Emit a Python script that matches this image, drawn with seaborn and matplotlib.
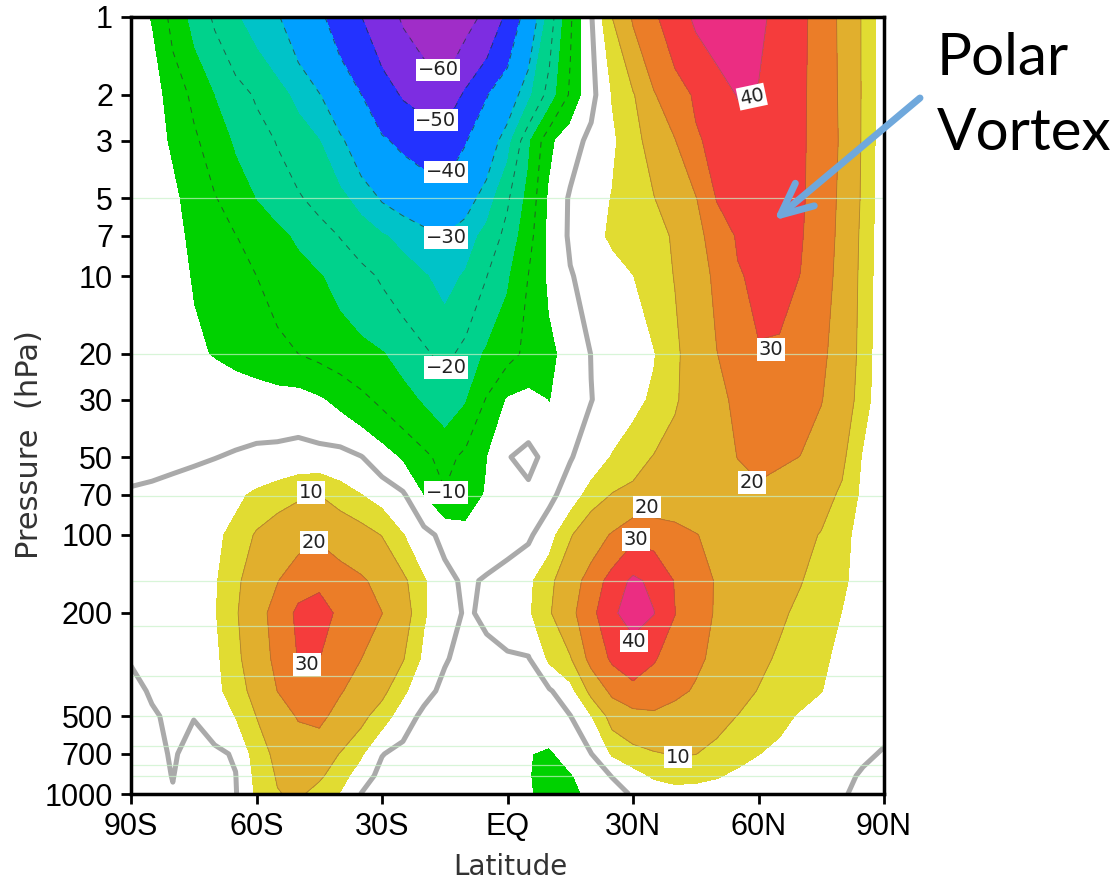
import numpy as np
import matplotlib
matplotlib.use("Agg")
import matplotlib.pyplot as plt
from matplotlib.ticker import NullLocator
import seaborn as sns

# grid: latitude (deg) and pressure (hPa)
lats = [-90, -85, -80, -75, -70, -65, -60, -55, -50, -45, -40, -35, -30,
        -25, -20, -15, -10, -5, 0, 5, 10, 15, 20, 25, 30, 35, 40, 45, 50,
        55, 60, 65, 70, 75, 80, 85, 90]
pres = [1, 2, 3, 5, 7, 10, 20, 30, 50, 70, 100, 150, 200, 300, 400, 500, 700, 850, 1000]

# zonal-mean zonal wind (m/s), one row per pressure level, 90S -> 90N
u_1hpa = [-3, -5.3, -11.6, -16.8, -20.7, -24.5, -27.1, -29.5, -33.7, -38.5, -44.0, -49.8, -55.6,
          -61.0, -64.8, -68.0, -63.2, -57.9, -48.0, -35.4, -22.7, -10.8, -0.4, 10.0, 21.0, 28.5,
          35.6, 41.5, 45.7, 46.1, 41.9, 37.3, 32.3, 25.8, 17.9, 9.1, 2.0]
u_2hpa = [-2, -3.1, -7.1, -11.1, -15.1, -17.9, -20.6, -23.3, -26.3, -29.7, -34.7, -39.9, -45.8,
          -50.9, -54.1, -57.0, -48.3, -40.5, -34.0, -26.3, -17.9, -9.2, -1.5, 5.2, 9.2, 19.3,
          25.9, 31.2, 34.9, 40.5, 39.5, 34.8, 31.6, 26.2, 18.2, 9.1, 2.0]
u_3hpa = [-2, -3.5, -5.6, -9.1, -12.6, -15.7, -18.0, -20.3, -22.6, -24.9, -29.0, -33.9, -39.0,
          -41.8, -44.2, -46.0, -40.5, -34.1, -27.0, -16.0, -6.2, -2.0, 1.2, 4.2, 7.8, 12.8,
          19.6, 29.0, 32.2, 34.6, 37.0, 34.2, 31.4, 26.4, 18.5, 9.0, 2.0]
u_5hpa = [-2, -3.5, -4.2, -6.9, -9.7, -12.5, -15.2, -17.3, -19.5, -21.6, -23.8, -26.9, -30.6,
          -32.7, -34.8, -37.0, -32.7, -27.5, -20.7, -13.5, -4.3, 0.6, 2.9, 5.2, 7.5, 9.8,
          14.6, 19.5, 30.5, 32.8, 35.1, 34.3, 31.3, 25.8, 17.8, 8.7, 2.0]
u_7hpa = [-2, -3.2, -3.9, -5.9, -7.9, -9.9, -11.8, -13.8, -15.9, -18.0, -20.2, -22.3, -24.5,
          -26.4, -28.2, -29.8, -27.1, -23.5, -18.3, -11.9, -3.9, 0.7, 3.5, 5.7, 7.1, 8.6,
          10.5, 16.8, 24.7, 30.9, 32.8, 33.1, 30.8, 25.2, 17.3, 8.1, 2.0]
u_10hpa = [-2, -3.4, -3.75, -5.3, -6.9, -8.4, -10.0, -11.6, -13.1, -14.7, -16.6, -18.6, -20.6,
           -22.6, -24.6, -26.5, -24.5, -20.1, -15.7, -9.9, -4.2, -0.3, 1.6, 3.3, 4.9, 7.6,
           10.2, 15.8, 21.8, 29.3, 31.6, 32.5, 29.9, 24.0, 16.9, 7.7, 2.0]
u_20hpa = [-1.5, -2.5, -3.3, -4.3, -5.3, -6.4, -7.6, -8.8, -10.0, -11.1, -12.3, -13.5, -14.7,
           -16.7, -19.1, -21.6, -18.2, -14.2, -11.5, -8.9, -6.2, -3.2, 0.1, 1.6, 3.2, 4.7,
           8.6, 14.0, 19.8, 24.2, 29.5, 28.8, 24.4, 21.6, 16.2, 7.2, 2.0]
u_30hpa = [-1.5, -2.0, -2.3, -2.3, -2.2, -2.3, -2.5, -3.0, -3.0, -4.5, -6.5, -8.8, -11.1,
           -13.4, -15.6, -17.6, -15.4, -9.6, -4.6, -3.5, -5.2, -2.5, -0.1, 1.7, 3.6, 5.8,
           9.2, 13.4, 17.9, 21.6, 24.8, 24.7, 22.6, 20.4, 14.5, 6.7, 2.0]
u_50hpa = [-1.5, -1.2, -0.8, -0.5, -0.1, 0.4, 1.0, 1.4, 2.0, 1.8, 1.8, 0.2, -2.7,
           -5.8, -8.8, -11.8, -8.7, -5.2, -0.3, 1.5, -1.8, -0.3, 2.2, 5.3, 7.8, 10.3,
           12.8, 15.2, 17.6, 20.1, 21.4, 21.2, 19.9, 15.6, 11.2, 4.4, 1.5]
u_70hpa = [0.5, 0.8, 1.2, 1.8, 2.6, 4.0, 5.9, 7.5, 9.0, 10.0, 7.1, 5.1, 2.9,
           0.7, -5.3, -9.6, -7.5, -4.6, -3.3, -1.2, -1.2, 2.3, 7.0, 10.3, 11.5, 12.8,
           14.0, 15.3, 16.5, 17.8, 19.0, 16.7, 14.3, 12.0, 9.1, 3.7, 1.2]
u_100hpa = [1.0, 1.5, 2.2, 3.0, 4.0, 6.3, 10.7, 13.5, 16.3, 18.4, 15.3, 12.6, 9.8,
            5.2, 1.7, -1.5, -3.5, -3.2, -2.2, -0.8, 3.0, 9.4, 15.2, 20.9, 27.7, 26.5,
            23.4, 20.3, 18.1, 16.4, 14.7, 13.0, 11.5, 9.7, 6.5, 3.0, 1.0]
u_150hpa = [1.2, 1.7, 2.4, 3.2, 4.4, 8.6, 13.9, 19.6, 26.0, 28.5, 24.4, 21.4, 16.8,
            11.3, 5.4, 1.6, -1.0, 0.6, 2.3, 4.0, 8.2, 15.4, 23.9, 34.1, 42.0, 37.7,
            29.5, 23.9, 19.3, 17.1, 14.8, 12.5, 10.3, 7.9, 5.6, 3.5, 1.5]
u_200hpa = [1.0, 1.6, 2.4, 3.3, 4.6, 9.2, 15.9, 24.0, 32.0, 33.0, 28.5, 23.9, 20.1,
            13.2, 5.5, 2.1, -0.5, 0.7, 2.5, 4.3, 9.2, 17.3, 27.1, 38.5, 44.0, 40.3,
            30.2, 24.0, 19.1, 16.4, 13.7, 11.0, 8.8, 6.8, 4.9, 3.2, 1.5]
u_300hpa = [0.2, 1.0, 1.9, 2.8, 4.0, 8.0, 15.2, 22.3, 30.5, 30.2, 23.7, 20.1, 15.1,
            10.4, 3.9, 0.4, -1.5, -1.0, -0.6, -0.3, 5.9, 9.3, 23.3, 31.5, 34.8, 30.7,
            26.3, 21.7, 18.0, 14.8, 11.6, 9.1, 7.4, 5.7, 4.0, 2.2, 0.8]
u_400hpa = [-0.8, 0.3, 1.4, 2.6, 3.9, 6.8, 12.6, 20.1, 25.0, 23.6, 20.7, 16.4, 11.6,
            5.9, 1.6, -1.2, -2.2, -2.5, -2.3, -1.6, -0.5, 3.1, 11.7, 22.5, 27.5, 25.8,
            22.3, 19.0, 15.8, 12.7, 9.7, 8.2, 6.6, 5.1, 3.4, 1.8, 0.5]
u_500hpa = [-1.5, -0.3, 0.5, 0.1, 2.2, 5.1, 10.1, 15.8, 20.8, 22.3, 16.8, 11.7, 7.2,
            2.6, -1.2, -2.3, -2.8, -3.0, -3.0, -2.6, -1.8, -0.1, 4.8, 12.2, 16.5, 18.2,
            16.1, 14.1, 12.0, 9.9, 8.1, 6.3, 4.5, 3.3, 2.2, 1.1, 0.8]
u_700hpa = [-2.0, -0.9, 0.3, -1.0, -0.8, 0.4, 7.3, 11.5, 14.5, 14.2, 9.7, 5.6, 0.2,
            -1.5, -2.3, -2.8, -3.0, -3.2, -3.8, -4.8, -5.8, -2.8, -0.1, 5.5, 7.4, 9.3,
            10.5, 10.1, 8.4, 6.7, 5.1, 3.8, 2.8, 2.0, 1.3, 0.4, -0.2]
u_850hpa = [-2.5, -1.2, 0.1, -1.8, -1.3, -0.1, 6.3, 10.5, 12.6, 11.0, 7.0, 2.5, -1.5,
            -2.5, -3.0, -3.3, -3.5, -3.6, -4.0, -4.7, -7.5, -5.5, -2.4, 0.2, 3.4, 5.6,
            6.5, 6.2, 5.4, 4.0, 3.0, 2.3, 1.7, 1.1, 0.6, -0.3, -1.0]
u_1000hpa = [-3.0, -1.5, -0.2, -2.0, -1.5, -0.3, 5.8, 9.7, 11.0, 7.8, 4.7, -0.1, -2.5,
             -3.0, -3.3, -3.5, -3.7, -3.8, -4.0, -4.5, -7.0, -5.8, -4.3, -1.9, 0.5, 2.5,
             3.2, 3.2, 2.8, 2.3, 1.8, 1.4, 1.0, 0.6, 0.3, -0.8, -1.5]

shade_levels = [-80, -60, -50, -40, -30, -25, -15, -5, 5, 10, 20, 30, 40, 60]
shade_colors = ['#a02dc8', '#7d2de1', '#2332ff', '#00a0ff', '#00c3c8', '#00d28c',
                '#00d200', '#ffffff', '#e1dc32', '#e1af2d', '#eb7d28', '#f53c3c', '#eb2d82']
neg_lines = [-60, -50, -40, -30, -20, -10]
pos_lines = [10, 20, 30, 40]

ytick_vals = [1, 2, 3, 5, 7, 10, 20, 30, 50, 70, 100, 200, 500, 700, 1000]
xtick_vals = [-90, -60, -30, 0, 30, 60, 90]
xtick_text = ['90S', '60S', '30S', 'EQ', '30N', '60N', '90N']

# contour labels: (text, lat, pressure)
label_text = ['\u221260', '\u221250', '\u221240', '\u221230', '\u221220', '\u221210',
              '10', '20', '30', '20', '30', '40', '40', '30', '20', '10']
label_lat = [-16.6, -17.1, -14.7, -14.7, -14.7, -14.7,
             -47.0, -46.3, -47.9, 33.3, 30.7, 30.2, 58.4, 63.0, 58.4, 40.8]
label_pres = [1.6, 2.5, 3.96, 7.1, 22.6, 68.5,
              68.5, 107, 316, 78, 104, 257, 2.03, 19.2, 62.7, 721]

sns.set_style("ticks")
plt.rcParams['font.family'] = ['Liberation Sans', 'DejaVu Sans']

field = np.array([u_1hpa, u_2hpa, u_3hpa, u_5hpa, u_7hpa, u_10hpa, u_20hpa, u_30hpa,
                  u_50hpa, u_70hpa, u_100hpa, u_150hpa, u_200hpa, u_300hpa, u_400hpa,
                  u_500hpa, u_700hpa, u_850hpa, u_1000hpa])

fig = plt.figure(figsize=(11.19, 8.85), dpi=100)
ax = fig.add_axes([131 / 1119, 1 - 794 / 885, 753 / 1119, 777 / 885])

ax.contourf(lats, pres, field, levels=shade_levels, colors=shade_colors)
ax.contour(lats, pres, field, levels=neg_lines, colors='#303030', linewidths=0.7,
           linestyles=[(0, (6, 6))], alpha=0.7)
ax.contour(lats, pres, field, levels=pos_lines, colors='#8c6a30', linewidths=0.6, alpha=0.6)
ax.contour(lats, pres, field, levels=[0], colors='#aaaaaa', linewidths=3.6)

# faint scan lines seen across the panel
for p in [5, 20, 71, 150, 225, 351, 500, 653, 774, 853]:
    ax.axhline(p, color='#c8f2c8', lw=0.9, alpha=0.7)

for t, la, pr in zip(label_text, label_lat, label_pres):
    rot = 12 if (t == '40' and pr < 10) else 0
    ax.text(la, pr, t, ha='center', va='center', fontsize=14, family='DejaVu Sans',
            color='#222222', rotation=rot,
            bbox=dict(facecolor='white', edgecolor='none', pad=1.2))

ax.set_yscale('log')
ax.set_ylim(1000, 1)
ax.set_xlim(-90, 90)
ax.set_yticks(ytick_vals)
ax.set_yticklabels([str(v) for v in ytick_vals])
ax.yaxis.set_minor_locator(NullLocator())
ax.set_xticks(xtick_vals)
ax.set_xticklabels(xtick_text)
ax.tick_params(axis='both', direction='out', length=7, width=2, labelsize=22,
               pad=6, colors='black', top=False, right=False)
for s in ax.spines.values():
    s.set_linewidth(2.5)
    s.set_color('black')

fig.text(510 / 1119, 1 - 875 / 885, 'Latitude', ha='center', va='baseline',
         fontsize=20, family='DejaVu Sans', color='#333333')
fig.text(30 / 1119, 1 - 445 / 885, 'Pressure  (hPa)', ha='center', va='center',
         rotation=90, fontsize=22, family='DejaVu Sans', color='#333333')

fig.text(937 / 1119, 1 - 75 / 885, 'Polar', ha='left', va='baseline',
         fontsize=42, family='Lato', color='black')
fig.text(937 / 1119, 1 - 150 / 885, 'Vortex', ha='left', va='baseline',
         fontsize=42, family='Lato', color='black')

ax.annotate('', xy=(63.7, 6.1), xycoords='data',
            xytext=(920 / 1119, 1 - 98 / 885), textcoords='figure fraction',
            arrowprops=dict(arrowstyle='->,head_length=2.3,head_width=1.06',
                            color='#6fa8dc', lw=5, shrinkA=0, shrinkB=0))

fig.savefig('out.png', dpi=100)
